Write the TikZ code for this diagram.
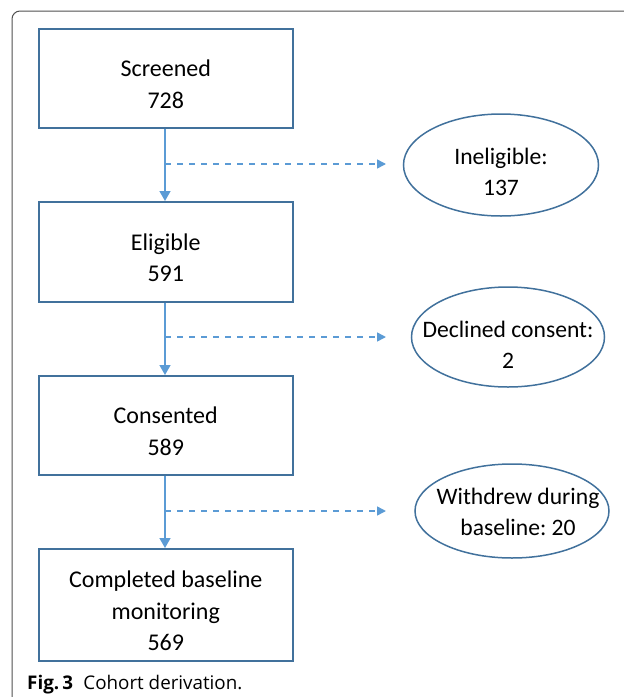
\documentclass[tikz,border=0pt]{standalone}
\usepackage{fontspec}
\setmainfont{Carlito}
\newfontfamily\capfont{Open Sans}
\usetikzlibrary{arrows.meta,shapes.geometric}
\definecolor{boxblue}{HTML}{41719C}
\definecolor{arrblue}{HTML}{5B9BD5}
\definecolor{framegray}{HTML}{505050}
\frenchspacing
\tikzset{
  stepbox/.style={draw=boxblue, line width=1.5pt, minimum width=254pt, anchor=north west, inner sep=0pt},
  outcome/.style={draw=boxblue, line width=1.5pt, ellipse, inner sep=0pt},
  boxtext/.style={align=center, font=\fontsize{24}{31.5}\selectfont, inner sep=0pt},
  etext/.style={align=center, font=\fontsize{23.6}{31}\selectfont, inner sep=0pt},
  mainarrow/.style={draw=arrblue, line width=1.5pt, -{Triangle[length=10pt,width=11pt]}},
  sidearrow/.style={draw=arrblue, line width=1.5pt, dash pattern=on 6pt off 6pt, -{Triangle[length=9pt,width=9pt]}}
}
\begin{document}
\begin{tikzpicture}[x=1pt,y=-1pt]
\useasboundingbox (0,0) rectangle (624,697);
% frame
\draw[framegray, line width=1pt] (12,697) -- (12,19) arc[start angle=180,end angle=270,radius=8] -- (624,11);
% boxes
\node[stepbox, minimum height=99pt] (b1) at (38,28) {};
\node[stepbox, minimum height=100pt] (b2) at (38,201) {};
\node[stepbox, minimum height=99pt] (b3) at (38,375) {};
\node[stepbox, minimum height=112pt] (b4) at (38,548) {};
\node[boxtext] (b1t) at ([yshift=-6pt]b1.center) {Screened\\728};
\node[boxtext] (b2t) at ([yshift=-6pt]b2.center) {Eligible\\591};
\node[boxtext] (b3t) at ([yshift=-6pt]b3.center) {Consented\\589};
\node[boxtext] (b4t) at ([yshift=-6pt]b4.center) {Completed baseline\\monitoring\\569};
% ellipses
\node[outcome, minimum width=195pt, minimum height=102pt] (e1) at (501,165) {};
\node[outcome, minimum width=193pt, minimum height=100pt] (e2) at (508,337) {};
\node[outcome, minimum width=194pt, minimum height=94pt] (e3) at (512,511) {};
\node[etext] (e1t) at ([yshift=-7pt]e1.center) {Ineligible:\\137};
\node[etext] (e2t) at ([yshift=-8pt]e2.center) {Declined consent:\\2};
\node[etext] (e3t) at ([yshift=-1pt,xshift=6pt]e3.center) {Withdrew during\\baseline: 20};
% branch points
\coordinate (s1) at (165,164);
\coordinate (t1) at (386,164);
\coordinate (s2) at (165,337);
\coordinate (t2) at (386,337);
\coordinate (s3) at (165,511);
\coordinate (t3) at (386,511);
% main arrows
\draw[mainarrow] (b1.south -| s1) -- (b2.north -| s1);
\draw[mainarrow] (b2.south -| s2) -- (b3.north -| s2);
\draw[mainarrow] (b3.south -| s3) -- (b4.north -| s3);
% side arrows
\draw[sidearrow] (s1) -- (t1);
\draw[sidearrow] (s2) -- (t2);
\draw[sidearrow] (s3) -- (t3);
% caption
\node[anchor=base west, inner sep=0pt, font=\capfont\fontsize{18.8}{22}\selectfont] (cap) at (27,689) {\textbf{Fig.\,3}\hspace{0.55em}Cohort derivation.};
\end{tikzpicture}
\end{document}
